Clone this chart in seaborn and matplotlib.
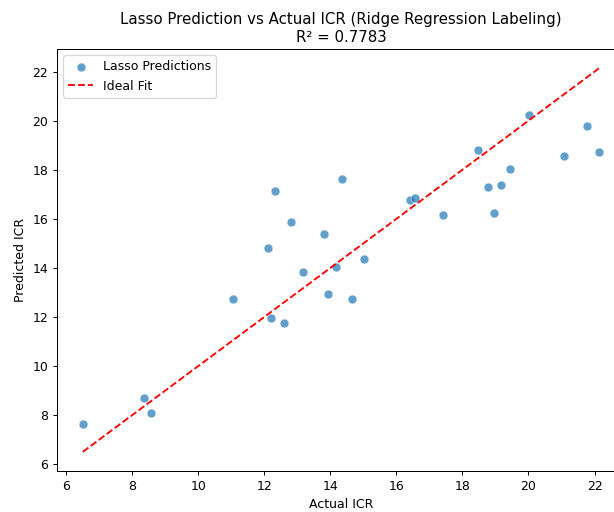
import matplotlib
matplotlib.use("Agg")
import matplotlib.pyplot as plt
import seaborn as sns
import pandas as pd

actual = [6.51, 8.35, 8.56, 11.06, 12.12, 12.20, 12.34, 12.61, 12.81, 13.17,
          13.81, 13.94, 14.18, 14.36, 14.66, 15.01, 16.42, 16.55, 17.40, 18.48,
          18.76, 18.97, 19.18, 19.43, 20.03, 21.06, 21.78, 22.14]
predicted = [7.64, 8.71, 8.11, 12.73, 14.81, 11.98, 17.12, 11.76, 15.86, 13.82,
             15.38, 12.96, 14.04, 17.61, 12.73, 14.38, 16.76, 16.87, 16.16, 18.80,
             17.29, 16.24, 17.40, 18.02, 20.22, 18.58, 19.80, 18.73]
r2_text = "R² = 0.7783"

df = pd.DataFrame({"Actual ICR": actual, "Predicted ICR": predicted})

DPI = 90
fig = plt.figure(figsize=(614 / DPI, 512 / DPI), dpi=DPI)
ax = fig.add_axes([57 / 614, 1 - 471 / 512, (625 - 57) / 614, (471 - 49) / 512])

sns.scatterplot(data=df, x="Actual ICR", y="Predicted ICR", ax=ax,
                alpha=0.7, s=50, color="#1f77b4", edgecolor="white",
                linewidth=0.5, label="Lasso Predictions")
lo, hi = min(actual), max(actual)
ax.plot([lo, hi], [lo, hi], "r--", label="Ideal Fit")

ax.set_xticks([6, 8, 10, 12, 14, 16, 18, 20, 22])
ax.set_yticks([6, 8, 10, 12, 14, 16, 18, 20, 22])
ax.set_title("Lasso Prediction vs Actual ICR (Ridge Regression Labeling)\n" + r2_text,
             fontsize=12)
ax.set_xlabel("Actual ICR")
ax.set_ylabel("Predicted ICR")
ax.legend(loc="upper left")

fig.savefig("out.png", dpi=DPI)
